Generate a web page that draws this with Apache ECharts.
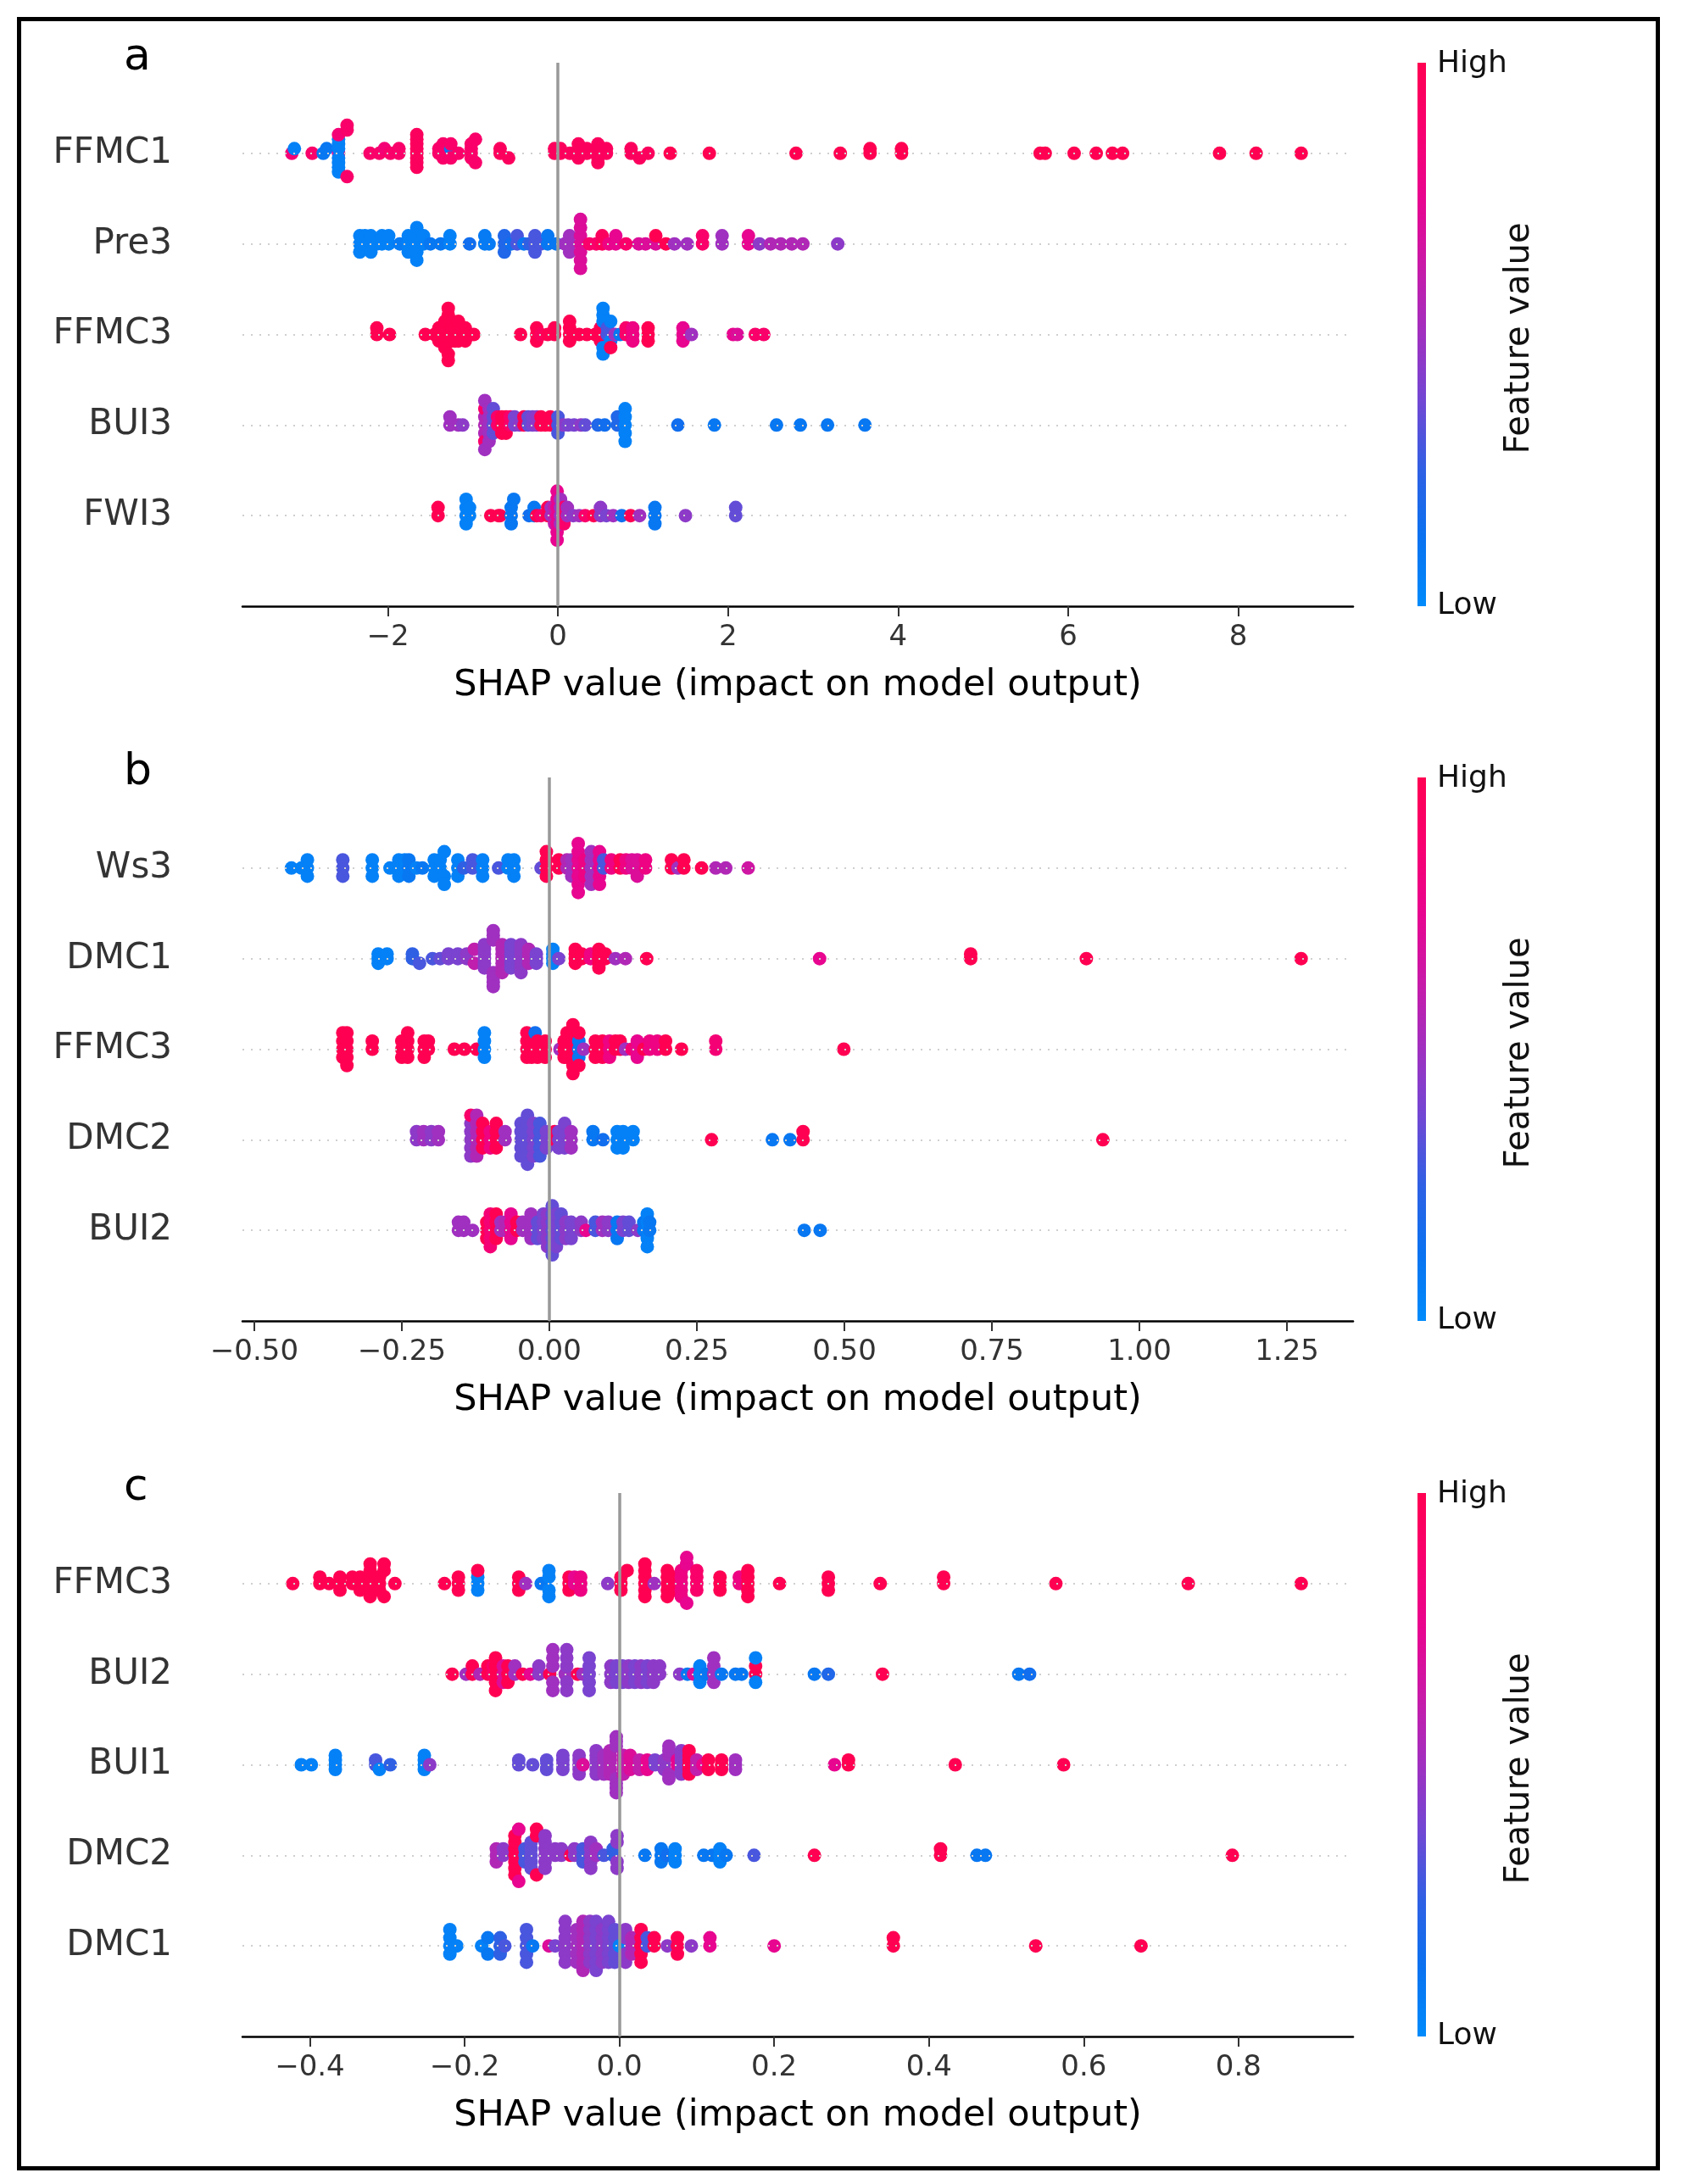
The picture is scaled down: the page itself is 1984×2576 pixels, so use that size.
<!DOCTYPE html>
<html>
<head>
<meta charset="utf-8">
<script src="https://cdn.jsdelivr.net/npm/echarts@6/dist/echarts.min.js"></script>
<style>
html,body{margin:0;padding:0;background:#fff;}
#chart{width:1984px;height:2576px;}
</style>
</head>
<body>
<div id="chart"></div>
<script>
// ---------------- DATA ----------------
// Each entry: [SHAP value, normalized feature value (0 = low, 1 = high), number of samples]
const featuresA = ['FFMC1', 'Pre3', 'FFMC3', 'BUI3', 'FWI3'];
const featuresB = ['Ws3', 'DMC1', 'FFMC3', 'DMC2', 'BUI2'];
const featuresC = ['FFMC3', 'BUI2', 'BUI1', 'DMC2', 'DMC1'];

const ticksA = [-2, 0, 2, 4, 6, 8];
const tickLabelsA = ['\u22122', '0', '2', '4', '6', '8'];
const ticksB = [-0.5, -0.25, 0, 0.25, 0.5, 0.75, 1, 1.25];
const tickLabelsB = ['\u22120.50', '\u22120.25', '0.00', '0.25', '0.50', '0.75', '1.00', '1.25'];
const ticksC = [-0.4, -0.2, 0, 0.2, 0.4, 0.6, 0.8];
const tickLabelsC = ['\u22120.4', '\u22120.2', '0.0', '0.2', '0.4', '0.6', '0.8'];

const rangeA = [-3.71, 9.35];
const rangeB = [-0.520, 1.362];
const rangeC = [-0.487, 0.948];

// Panel a
const a_FFMC1 = [
  [-3.13,0.85,1],[-3.10,0.05,1],[-2.89,0.9,1],[-2.76,0.1,1],[-2.72,0.1,1],
  [-2.58,0.7,1],[-2.58,0.05,6],[-2.58,0.85,1],[-2.58,0.05,1],[-2.48,0.9,3],
  [-2.21,0.9,1],[-2.10,0.9,1],[-2.04,0.85,1],[-1.97,0.9,1],[-1.87,0.9,2],
  [-1.66,0.95,8],[-1.40,0.9,2],[-1.35,0.9,2],[-1.26,0.9,1],[-1.26,0.1,1],[-1.26,0.9,2],
  [-1.17,0.9,1],[-1.02,0.9,4],[-0.97,0.9,2],[-0.68,0.95,2],[-0.58,0.95,1],
  [-0.04,0.95,2],[0.03,0.95,2],[0.14,0.95,1],[0.24,0.95,3],[0.34,0.95,2],
  [0.47,0.95,5],[0.57,0.95,2],[0.86,0.95,2],[0.96,0.95,1],[1.06,0.95,1],
  [1.32,1,1],[1.78,1,1],[2.80,1,1],[3.32,1,1],[3.67,1,2],[4.04,1,2],
  [5.67,1,1],[5.73,1,1],[6.07,1,1],[6.33,1,1],[6.52,1,1],[6.64,1,1],
  [7.78,1,1],[8.21,1,1],[8.74,1,1]
];
const a_Pre3 = [
  [-2.33,0.05,3],[-2.27,0.05,2],[-2.20,0.05,3],[-2.13,0.05,1],[-2.07,0.05,2],[-1.99,0.05,2],
  [-1.86,0.08,1],[-1.76,0.05,3],[-1.70,0.05,2],[-1.66,0.05,5],[-1.58,0.05,2],[-1.50,0.1,1],
  [-1.38,0.1,1],[-1.27,0.05,2],[-1.04,0.15,1],[-0.86,0.08,2],[-0.81,0.08,1],
  [-0.63,0.2,3],[-0.55,0.15,1],[-0.48,0.3,2],[-0.40,0.1,1],[-0.34,0.25,1],[-0.27,0.3,3],
  [-0.20,0.3,1],[-0.12,0.1,2],[-0.02,0.1,1],[0.08,0.5,1],[0.137,0.5,3],[0.265,0.7,7],
  [0.37,0.9,1],[0.45,0.9,1],[0.52,0.95,2],[0.60,0.8,1],[0.68,0.75,2],[0.80,0.9,1],
  [0.95,0.7,1],[1.03,0.7,1],[1.15,0.7,1],[1.15,1,1],[1.27,1,1],[1.37,0.5,1],[1.52,0.5,1],
  [1.70,0.9,2],[1.93,0.5,2],[2.24,0.75,2],[2.37,0.45,1],[2.50,0.55,1],[2.62,0.55,1],
  [2.75,0.55,1],[2.88,0.55,1],[3.29,0.45,1]
];
const a_FFMC3 = [
  [-2.13,1,2],[-1.98,1,1],[-1.56,1,1],[-1.45,1,1],[-1.40,1,3],[-1.36,1,3],[-1.33,1,5],
  [-1.29,1,4],[-1.25,1,4],[-1.21,1,3],[-1.17,1,4],[-1.13,1,2],[-1.09,1,3],[-1.04,1,1],[-0.99,1,1],
  [-0.44,1,1],[-0.25,1,3],[-0.20,0.95,1],[-0.12,1,1],[-0.04,1,2],[0.137,1,4],[0.25,1,1],
  [0.34,1,1],[0.44,1,1],[0.50,1,3],[0.53,0.05,5],[0.58,0.3,2],[0.62,0.05,2],[0.62,1,1],
  [0.67,0.5,1],[0.73,0.1,1],[0.80,0.9,2],[0.88,0.8,3],[1.06,1,3],[1.47,0.75,3],[1.57,0.5,1],
  [2.06,0.75,1],[2.11,0.7,1],[2.32,0.9,1],[2.42,0.9,1]
];
const a_BUI3 = [
  [-1.27,0.5,2],[-1.17,0.5,1],[-1.12,0.45,1],[-0.86,0.55,3],[-0.86,0.9,2],[-0.86,0.5,2],
  [-0.81,0.5,5],[-0.76,0.35,4],[-0.71,0.9,2],[-0.66,1,3],[-0.61,1,3],[-0.56,0.9,2],
  [-0.51,0.4,2],[-0.45,0.45,1],[-0.40,1,2],[-0.35,0.35,2],[-0.30,0.4,2],[-0.25,0.45,2],
  [-0.20,1,2],[-0.15,1,1],[-0.09,1,2],[0.0,0.3,3],[0.06,0.45,1],[0.12,0.4,1],[0.19,0.4,1],
  [0.27,0.45,1],[0.32,0.35,1],[0.47,0.2,1],[0.55,0.15,1],[0.70,0.2,2],[0.79,0.05,5],
  [1.41,0.15,1],[1.84,0.1,1],[2.57,0.1,1],[2.85,0.1,1],[3.17,0.1,1],[3.61,0.1,1]
];
const a_FWI3 = [
  [-1.41,1,2],[-1.08,0.05,4],[-1.04,0.05,2],[-0.79,1,1],[-0.70,1,1],[-0.68,1,1],
  [-0.55,0.1,3],[-0.52,0.1,1],[-0.34,0.15,1],[-0.28,0.1,2],[-0.25,1,1],[-0.20,0.9,1],
  [-0.12,1,2],[-0.08,0.5,2],[-0.04,0.6,3],[-0.01,0.75,7],[0.03,0.5,4],[0.07,0.9,3],
  [0.11,0.5,2],[0.18,0.45,1],[0.25,0.5,1],[0.32,0.9,1],[0.42,1,1],[0.50,0.45,2],
  [0.57,0.4,1],[0.65,0.5,1],[0.75,0.15,1],[0.855,1,1],[0.96,0.5,1],[1.14,0.1,3],
  [1.50,0.45,1],[2.09,0.35,2]
];

// Panel b
const b_Ws3 = [
  [-0.437,0.05,1],[-0.42,0.05,1],[-0.41,0.05,3],[-0.35,0.3,3],[-0.30,0.05,3],[-0.27,0.05,1],
  [-0.255,0.05,3],[-0.245,0.05,2],[-0.238,0.1,3],[-0.225,0.05,1],[-0.215,0.1,1],
  [-0.195,0.05,3],[-0.185,0.05,2],[-0.178,0.05,3],[-0.155,0.05,3],[-0.145,0.25,1],
  [-0.13,0.3,2],[-0.113,0.05,3],[-0.086,0.3,1],[-0.07,0.05,2],[-0.06,0.05,3],
  [-0.014,0.35,1],[-0.005,1,4],[0.016,1,2],[0.03,0.55,2],[0.038,0.5,3],[0.049,0.75,7],
  [0.06,0.8,3],[0.071,0.5,5],[0.085,0.75,5],[0.092,0.3,2],[0.105,0.8,2],[0.12,1,2],
  [0.13,0.8,2],[0.14,0.7,2],[0.149,0.7,3],[0.163,0.8,2],[0.207,1,2],[0.218,0.5,1],
  [0.228,1,2],[0.258,1,1],[0.282,0.55,1],[0.299,0.55,1],[0.337,0.65,1]
];
const b_DMC1 = [
  [-0.29,0.05,3],[-0.275,0.05,2],[-0.232,0.25,2],[-0.22,0.3,1],[-0.198,0.3,1],
  [-0.185,0.35,1],[-0.171,0.4,2],[-0.155,0.4,2],[-0.14,0.45,2],[-0.127,0.6,2],
  [-0.11,0.45,6],[-0.095,0.5,7],[-0.08,0.55,7],[-0.065,0.4,6],[-0.048,0.45,7],
  [-0.035,0.55,4],[-0.022,0.4,3],[0.006,0.05,4],[0.016,0.4,1],[0.044,1,4],[0.055,1,2],
  [0.07,0.8,2],[0.084,1,5],[0.095,1,2],[0.112,0.5,1],[0.129,0.55,1],[0.165,1,1],
  [0.458,0.75,1],[0.714,1,2],[0.91,1,1],[1.274,1,1]
];
const b_FFMC3 = [
  [-0.35,1,4],[-0.343,1,5],[-0.30,1,2],[-0.25,1,3],[-0.24,1,4],[-0.212,1,3],[-0.205,1,2],
  [-0.161,1,1],[-0.144,1,1],[-0.123,1,1],[-0.11,0.05,4],[-0.038,1,4],[-0.03,1,3],
  [-0.024,0.15,1],[-0.02,1,3],[-0.007,1,3],[0.018,0.5,1],[0.025,1,3],[0.03,1,4],
  [0.04,1,7],[0.05,0.1,3],[0.05,1,2],[0.058,0.5,1],[0.078,1,3],[0.09,1,3],[0.102,0.8,3],
  [0.112,1,2],[0.12,1,2],[0.129,0.5,1],[0.14,0.85,1],[0.149,0.75,3],[0.16,1,1],
  [0.17,0.8,2],[0.183,0.8,2],[0.197,1,2],[0.224,1,1],[0.282,0.85,2],[0.499,1,1]
];
const b_DMC2 = [
  [-0.225,0.45,2],[-0.213,0.5,2],[-0.20,0.45,2],[-0.188,0.5,2],[-0.133,0.45,5],
  [-0.133,0.9,1],[-0.123,0.55,6],[-0.113,1,4],[-0.10,0.8,3],[-0.09,1,4],[-0.075,0.5,2],
  [-0.048,0.35,5],[-0.037,0.35,7],[-0.027,0.4,5],[-0.016,0.3,5],[-0.005,0.4,3],
  [0.009,1,2],[0.016,0.4,3],[0.026,0.4,4],[0.037,0.5,3],[0.074,0.1,2],[0.091,0.15,1],
  [0.115,0.05,3],[0.125,0.05,3],[0.142,0.05,2],[0.275,1,1],[0.378,0.1,1],[0.408,0.1,1],
  [0.43,1,2],[0.938,1,1]
];
const b_BUI2 = [
  [-0.154,0.5,2],[-0.145,0.5,2],[-0.13,0.5,1],[-0.106,1,3],[-0.10,0.85,5],[-0.09,1,4],
  [-0.082,0.5,2],[-0.075,0.55,2],[-0.065,0.75,4],[-0.055,1,2],[-0.045,0.5,2],
  [-0.031,0.5,4],[-0.02,0.35,3],[-0.01,0.4,4],[-0.003,0.45,5],[0.005,0.35,7],
  [0.012,0.4,5],[0.02,0.35,4],[0.028,0.45,3],[0.037,0.4,3],[0.054,0.45,2],[0.062,0.75,1],
  [0.078,0.3,2],[0.09,0.5,2],[0.1,0.45,2],[0.115,0.1,3],[0.125,0.4,2],[0.135,0.35,2],
  [0.15,0.45,1],[0.16,0.1,2],[0.166,0.05,5],[0.17,0.1,2],[0.432,0.1,1],[0.459,0.1,1]
];

// Panel c
const c_FFMC3 = [
  [-0.422,1,1],[-0.387,1,2],[-0.375,1,1],[-0.361,1,3],[-0.345,1,2],[-0.335,1,3],
  [-0.322,1,6],[-0.31,1,3],[-0.304,1,3],[-0.29,1,1],[-0.226,1,1],[-0.208,1,3],
  [-0.183,0.05,3],[-0.183,1,1],[-0.13,1,3],[-0.121,0.5,1],[-0.101,0.1,1],[-0.091,0.05,4],
  [-0.065,1,3],[-0.058,0.75,2],[-0.05,0.8,3],[-0.015,0.45,1],[0.002,1,3],[0.01,1,1],
  [0.033,1,6],[0.045,0.5,1],[0.062,1,5],[0.07,1,3],[0.08,0.8,5],[0.087,0.75,3],
  [0.1,0.9,4],[0.13,1,3],[0.155,0.8,2],[0.166,1,5],[0.207,1,1],[0.27,1,3],[0.337,1,1],
  [0.419,1,2],[0.564,1,1],[0.735,1,1],[0.881,1,1]
];
const c_BUI2 = [
  [-0.216,1,1],[-0.198,0.5,1],[-0.19,1,2],[-0.18,0.55,1],[-0.17,1,2],[-0.163,0.9,2],
  [-0.16,1,5],[-0.15,0.7,3],[-0.144,1,3],[-0.135,0.5,2],[-0.125,1,1],[-0.115,0.75,1],
  [-0.104,0.45,2],[-0.09,1,1],[-0.086,0.5,5],[-0.07,0.5,1],[-0.068,0.45,5],[-0.054,1,1],
  [-0.047,0.5,1],[-0.039,0.4,5],[-0.011,0.45,3],[-0.004,0.4,3],[0.004,0.4,3],[0.012,0.45,3],
  [0.02,0.4,3],[0.028,0.45,3],[0.036,0.4,3],[0.044,0.45,3],[0.052,0.45,2],[0.078,0.45,1],
  [0.088,0.1,1],[0.096,0.7,1],[0.104,0.05,3],[0.112,0.1,1],[0.122,0.5,4],[0.132,0.1,1],
  [0.15,0.1,1],[0.158,0.1,1],[0.176,1,2],[0.176,0.05,2],[0.252,0.1,1],[0.27,0.2,1],
  [0.34,1,1],[0.516,0.1,1],[0.53,0.15,1]
];
const c_BUI1 = [
  [-0.411,0.05,1],[-0.398,0.05,1],[-0.367,0.05,4],[-0.315,0.3,2],[-0.31,0.05,1],
  [-0.296,0.25,1],[-0.252,0.05,4],[-0.245,0.45,1],[-0.13,0.35,2],[-0.112,0.35,1],
  [-0.094,0.35,3],[-0.073,0.4,4],[-0.052,0.45,5],[-0.047,0.7,1],[-0.03,0.45,6],
  [-0.02,0.5,5],[-0.012,0.55,6],[-0.004,0.5,7],[0.005,0.6,5],[0.014,0.7,4],[0.026,0.6,3],
  [0.036,0.75,3],[0.046,0.4,2],[0.058,0.45,3],[0.064,0.5,5],[0.075,0.75,2],[0.08,0.45,6],
  [0.09,1,6],[0.1,0.6,3],[0.108,0.75,1],[0.115,1,2],[0.132,1,3],[0.15,0.5,3],
  [0.278,0.75,1],[0.296,1,2],[0.434,1,1],[0.574,1,1]
];
const c_DMC2 = [
  [-0.159,0.55,3],[-0.15,0.45,2],[-0.135,1,7],[-0.13,0.75,2],[-0.122,0.3,3],
  [-0.114,0.35,5],[-0.107,1,3],[-0.096,0.45,6],[-0.083,0.45,2],[-0.075,0.45,2],
  [-0.063,1,1],[-0.058,0.45,2],[-0.047,0.3,3],[-0.037,0.45,5],[-0.03,0.5,2],[-0.02,0.3,1],
  [-0.008,0.25,2],[-0.003,0.45,4],[0.033,0.1,1],[0.054,0.1,3],[0.062,0.15,1],[0.072,0.05,3],
  [0.109,0.1,1],[0.12,0.1,1],[0.13,0.05,3],[0.138,0.1,1],[0.174,0.3,1],[0.252,1,1],
  [0.415,1,2],[0.462,0.1,1],[0.473,0.1,1],[0.792,1,1]
];
const c_DMC1 = [
  [-0.219,0.05,4],[-0.21,0.05,1],[-0.178,0.05,1],[-0.17,0.1,2],[-0.154,0.25,3],
  [-0.148,0.3,1],[-0.12,0.3,5],[-0.112,0.1,1],[-0.091,0.7,1],[-0.083,0.4,1],[-0.07,0.45,6],
  [-0.055,0.5,5],[-0.047,0.55,7],[-0.038,0.45,6],[-0.03,0.4,7],[-0.022,0.45,5],
  [-0.014,0.4,6],[-0.006,0.35,5],[0.0,0.05,1],[0.008,0.45,4],[0.016,0.55,3],[0.028,1,5],
  [0.036,0.3,2],[0.045,1,2],[0.062,0.45,1],[0.075,1,3],[0.093,0.45,1],[0.117,0.75,2],
  [0.2,0.75,1],[0.354,1,2],[0.538,1,1],[0.674,1,1]
];

// Colormap (blue = low feature value, red = high)
const cmapColors = ['#008bfb', '#0a72f0', '#2f60e4', '#7048d4', '#a030c0', '#c81aa8', '#e8058f', '#f80070', '#ff0052'];

// ---------------- BUILD ----------------
const panels = [
  { letter: 'a', features: featuresA, rows: [a_FFMC1, a_Pre3, a_FFMC3, a_BUI3, a_FWI3], range: rangeA, ticks: ticksA, tickLabels: tickLabelsA },
  { letter: 'b', features: featuresB, rows: [b_Ws3, b_DMC1, b_FFMC3, b_DMC2, b_BUI2], range: rangeB, ticks: ticksB, tickLabels: tickLabelsB },
  { letter: 'c', features: featuresC, rows: [c_FFMC3, c_BUI2, c_BUI1, c_DMC2, c_DMC1], range: rangeC, ticks: ticksC, tickLabels: tickLabelsC }
];

const FONT = 'DejaVu Sans';
const gridTops = [74, 917, 1761];
const gridH = 641;
const gridLeft = 286;
const gridW = 1310;

// SHAP-style beeswarm stacking (same algorithm as shap summary_plot)
function beeswarm(groups, pos) {
  const pts = [];
  groups.forEach(g => { for (let k = 0; k < g[2]; k++) pts.push([g[0], g[1]]); });
  const xs = pts.map(p => p[0]);
  const mn = Math.min(...xs), mx = Math.max(...xs);
  const nbins = 100;
  const quant = xs.map(x => Math.round(nbins * (x - mn) / (mx - mn + 1e-8)));
  const idx = pts.map((_, i) => i).sort((a, b) => (quant[a] - quant[b]) || (a - b));
  const ys = new Array(pts.length).fill(0);
  let layer = 0, last = -1;
  for (const i of idx) {
    if (quant[i] !== last) layer = 0;
    ys[i] = Math.ceil(layer / 2) * ((layer % 2) * 2 - 1);
    layer++;
    last = quant[i];
  }
  const m = Math.max(...ys.map(y => y + 1));
  const s = 0.9 * (0.4 / m);
  return pts.map((p, i) => [p[0], pos + ys[i] * s, p[1]]);
}

const grids = [], xAxes = [], yAxes = [], series = [], pointSeriesIdx = [], graphics = [];

panels.forEach((p, pi) => {
  grids.push({ left: gridLeft, top: gridTops[pi], width: gridW, height: gridH, containLabel: false });
  const nF = p.features.length;
  xAxes.push({
    type: 'value', gridIndex: pi, min: p.range[0], max: p.range[1],
    axisLine: { show: true, onZero: false, lineStyle: { color: '#000', width: 2.5 } },
    axisTick: { show: true, customValues: p.ticks, length: 12, lineStyle: { color: '#333', width: 2 } },
    axisLabel: {
      show: true, customValues: p.ticks, margin: 20, fontFamily: FONT, fontSize: 34, color: '#333',
      formatter: v => { const k = p.ticks.findIndex(t => Math.abs(t - v) < 1e-9); return k >= 0 ? p.tickLabels[k] : ''; }
    },
    splitLine: { show: false },
    name: 'SHAP value (impact on model output)', nameLocation: 'middle', nameGap: 72,
    nameTextStyle: { fontFamily: FONT, fontSize: 43, color: '#000' }
  });
  const rowVals = p.features.map((_, i) => nF - 1 - i);
  yAxes.push({
    type: 'value', gridIndex: pi, min: -1, max: nF,
    axisLine: { show: false }, axisTick: { show: false }, splitLine: { show: false },
    axisLabel: {
      show: true, customValues: rowVals, margin: 83, fontFamily: FONT, fontSize: 42, color: '#333',
      formatter: v => { const k = Math.round(v); return (k >= 0 && k < nF) ? p.features[nF - 1 - k] : ''; }
    }
  });
  // dotted row guide lines (behind points)
  series.push({
    type: 'scatter', xAxisIndex: pi, yAxisIndex: pi, data: [], z: 1, silent: true,
    markLine: {
      silent: true, symbol: ['none', 'none'], label: { show: false }, animation: false,
      lineStyle: { color: '#cfcfcf', width: 2, type: [2, 8] },
      data: rowVals.map(v => ({ yAxis: v }))
    }
  });
  // points
  p.rows.forEach((row, ri) => {
    pointSeriesIdx.push(series.length);
    series.push({
      type: 'scatter', name: p.features[ri], xAxisIndex: pi, yAxisIndex: pi, z: 3,
      symbol: 'circle', symbolSize: 16, silent: true,
      itemStyle: { opacity: 1 },
      data: beeswarm(row, nF - 1 - ri)
    });
  });
  // zero line
  series.push({
    type: 'scatter', xAxisIndex: pi, yAxisIndex: pi, data: [], z: 5, silent: true,
    markLine: {
      silent: true, symbol: ['none', 'none'], label: { show: false }, animation: false,
      lineStyle: { color: '#999999', width: 3.5, type: 'solid' },
      data: [{ xAxis: 0 }]
    }
  });

  const top = gridTops[pi], bottom = gridTops[pi] + gridH;
  // panel letter
  graphics.push({ type: 'text', left: 146, top: top - 32, style: { text: p.letter, fontFamily: FONT, fontSize: 52, fill: '#000' } });
  // colorbar
  graphics.push({
    type: 'rect', shape: { x: 1672, y: top, width: 10, height: gridH },
    style: { fill: { type: 'linear', x: 0, y: 1, x2: 0, y2: 0, colorStops: cmapColors.map((c, i) => ({ offset: i / (cmapColors.length - 1), color: c })) } }
  });
  graphics.push({ type: 'text', x: 1695, y: top + 2, style: { text: 'High', fontFamily: FONT, fontSize: 36, fill: '#111', verticalAlign: 'middle', align: 'left' } });
  graphics.push({ type: 'text', x: 1695, y: bottom, style: { text: 'Low', fontFamily: FONT, fontSize: 36, fill: '#111', verticalAlign: 'middle', align: 'left' } });
  graphics.push({ type: 'text', x: 1793, y: top + 325, rotation: Math.PI / 2, style: { text: 'Feature value', fontFamily: FONT, fontSize: 40, fill: '#111', verticalAlign: 'middle', align: 'center' } });
});

// outer frame
graphics.push({ type: 'rect', shape: { x: 22.5, y: 22.5, width: 1933, height: 2535 }, style: { fill: 'none', stroke: '#000', lineWidth: 5 } });

const chart = echarts.init(document.getElementById('chart'), null, { renderer: 'canvas' });
chart.setOption({
  backgroundColor: '#fff',
  animation: false,
  grid: grids,
  xAxis: xAxes,
  yAxis: yAxes,
  visualMap: {
    type: 'continuous', show: false, dimension: 2, min: 0, max: 1,
    seriesIndex: pointSeriesIdx,
    inRange: { color: cmapColors }
  },
  graphic: graphics,
  series: series
});
</script>
</body>
</html>
